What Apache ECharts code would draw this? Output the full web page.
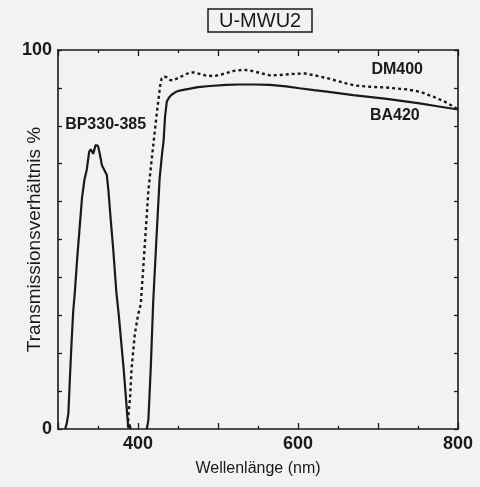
<!DOCTYPE html>
<html>
<head>
<meta charset="utf-8">
<script src="https://cdn.jsdelivr.net/npm/echarts@6/dist/echarts.min.js"></script>
<style>
  html, body { margin: 0; padding: 0; background: #f2f2f0; }
  #chart { width: 480px; height: 487px; }
</style>
</head>
<body>
<div id="chart"></div>
<script>
// Transmission curves of the U-MWU2 filter cube: [wavelength nm, transmission %]
const exciter = [
  [309, 0], [311, 1.5], [313, 4.2], [315, 14], [317, 23], [319, 31], [321, 36],
  [324, 45], [327, 53], [330, 61], [333, 65.7], [336, 68.5], [339, 73.2],
  [341, 73.8], [344, 72.6], [347, 74.9], [350, 74.7], [352.5, 72.3],
  [355, 69.5], [359, 67.9], [361, 67], [363, 63], [366, 55], [369, 47.5],
  [373, 36], [376, 30], [379, 23], [382, 16], [385, 8], [387, 2.4],
  [388, 0.3], [389.5, 1.2], [391, 0]
];
const dichroic = [
  [387.5, 0.5], [388, 3.7], [390, 8], [392, 16], [396, 25], [400, 30],
  [403.5, 33], [408, 47], [413, 63], [418, 72.8], [423, 82.4], [427.5, 90.3],
  [429.5, 92.5], [433, 93], [436, 92.8], [440, 92.1], [444, 92],
  [450, 92.6], [456, 93.2], [464, 94], [470, 94.1], [477, 93.7], [484, 93.3],
  [494, 93.1], [502, 93.4], [510, 93.9], [520, 94.5], [532, 94.8],
  [542, 94.5], [553, 93.9], [565, 93.3], [578, 93.4], [594, 93.7],
  [609, 93.8], [621, 93.3], [636, 92.6], [648, 91.9], [660, 91.2],
  [672, 90.6], [690, 90.3], [710, 90.1], [736, 89.6], [752, 89],
  [769, 87.7], [786, 86.1], [800, 84.3]
];
const barrier = [
  [411, 0], [413, 2.4], [416, 16.4], [419, 33.5], [423, 50], [427, 66],
  [430, 72.5], [432, 76], [433.8, 82.4], [436, 86.4], [439, 87.5],
  [442, 88.2], [447, 88.9], [452, 89.3], [465, 89.8], [475, 90.2],
  [490, 90.5], [510, 90.8], [527, 90.9], [545, 90.9], [565, 90.8],
  [585, 90.4], [602, 89.9], [620, 89.4], [636, 89], [669, 88.1],
  [711, 87.1], [752, 85.9], [776, 85.1], [800, 84.3]
];

// Curve names and where each name sits on the plot (nm, %)
const curveNames = ['BP330-385', 'DM400', 'BA420'];
const namePoints = [[359.5, 80.2], [724, 94.7], [721, 82.8]];

// Axis ranges and the tick values that carry a label
const xRange = [300, 800];
const yRange = [0, 100];
const xLabelled = [400, 600, 800];
const yLabelled = [0, 100];

const ink = '#1a1a1a';
const font = '"Liberation Sans", Arial, Helvetica, sans-serif';

function valueAxis(range, step, minorSplit, tickLen, labelled, extra) {
  return Object.assign({
    type: 'value',
    min: range[0],
    max: range[1],
    interval: step,
    splitLine: { show: false },
    axisLine: { show: true, onZero: false, lineStyle: { color: ink, width: 1.6 } },
    axisTick: { show: true, inside: true, length: tickLen, lineStyle: { color: ink, width: 1.3 } },
    minorTick: minorSplit
      ? { show: true, splitNumber: minorSplit, length: 3, lineStyle: { color: ink, width: 1.3 } }
      : { show: false },
    axisLabel: labelled
      ? {
          show: true,
          color: ink,
          fontFamily: font,
          fontSize: 18,
          fontWeight: 'bold',
          margin: 6,
          formatter: v => (labelled.indexOf(v) >= 0 ? String(v) : '')
        }
      : { show: false }
  }, extra || {});
}

const chart = echarts.init(document.getElementById('chart'), null, { renderer: 'canvas' });

chart.setOption({
  backgroundColor: '#f2f2f0',
  animation: false,
  title: {
    text: 'U-MWU2',
    left: 208,
    top: 9,
    padding: [2, 11, 1, 11],
    borderColor: ink,
    borderWidth: 1.5,
    textStyle: { color: ink, fontFamily: font, fontSize: 20, fontWeight: 'normal' }
  },
  grid: { left: 58, right: 22, top: 50, bottom: 58, containLabel: false, outerBoundsMode: 'none' },
  xAxis: [
    valueAxis(xRange, 100, 2, 6, xLabelled, {
      position: 'bottom',
      name: 'Wellenlänge (nm)',
      nameLocation: 'middle',
      nameGap: 32,
      nameMoveOverlap: false,
      nameTextStyle: { color: ink, fontFamily: font, fontSize: 16 }
    }),
    valueAxis(xRange, 100, 2, 6, null, { position: 'top' })
  ],
  yAxis: [
    valueAxis(yRange, 10, 0, 4, yLabelled, {
      position: 'left',
      name: 'Transmissionsverhältnis %',
      nameLocation: 'middle',
      nameGap: 14,
      nameMoveOverlap: false,
      nameTextStyle: { color: ink, fontFamily: font, fontSize: 19 }
    }),
    valueAxis(yRange, 10, 0, 4, null, { position: 'right' })
  ],
  series: [
    {
      name: curveNames[0],
      type: 'line',
      data: exciter,
      showSymbol: false,
      lineStyle: { color: ink, width: 2.2 },
      z: 3
    },
    {
      name: curveNames[1],
      type: 'line',
      data: dichroic,
      showSymbol: false,
      lineStyle: { color: ink, width: 2.4, type: [3, 3] },
      z: 3
    },
    {
      name: curveNames[2],
      type: 'line',
      data: barrier,
      showSymbol: false,
      lineStyle: { color: ink, width: 2.2 },
      z: 3
    },
    {
      type: 'scatter',
      symbolSize: 0,
      silent: true,
      itemStyle: { opacity: 1 },
      data: curveNames.map((n, i) => ({ name: n, value: namePoints[i] })),
      label: {
        show: true,
        position: 'inside',
        formatter: p => p.name,
        color: ink,
        opacity: 1,
        fontFamily: font,
        fontSize: 16,
        fontWeight: 'bold',
        textBorderWidth: 0
      },
      z: 4
    }
  ]
});
</script>
</body>
</html>
